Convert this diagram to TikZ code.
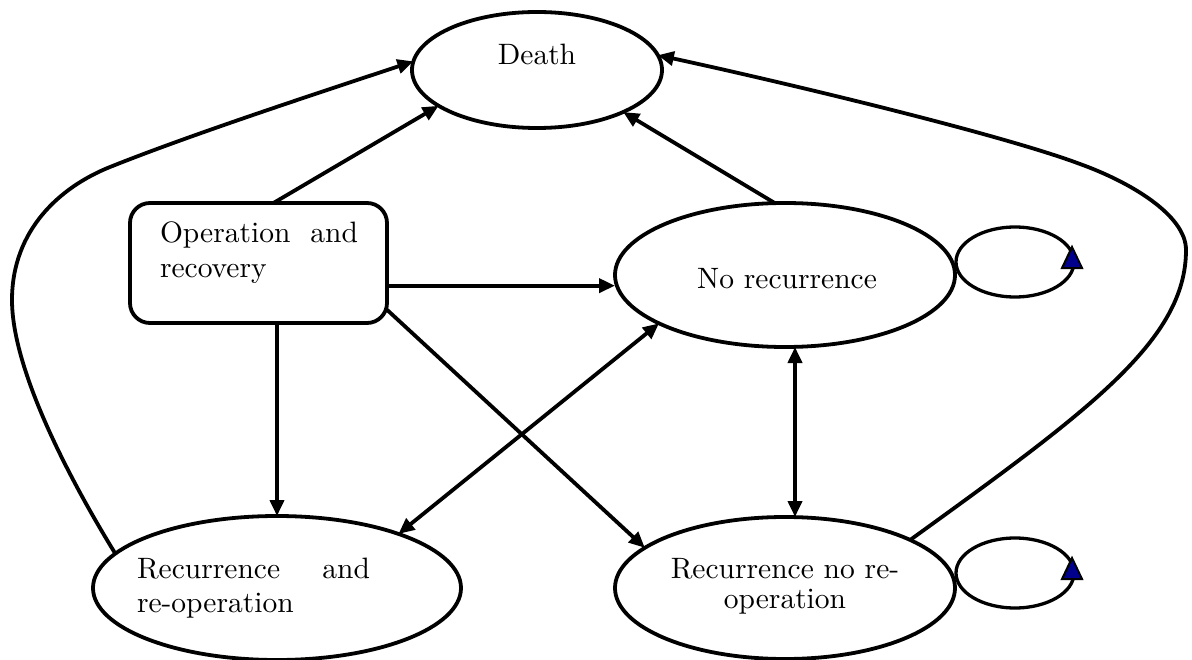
\documentclass[tikz,border=0pt]{standalone}
\usepackage{fontspec}
\setmainfont{lmroman10-regular.otf}
\usetikzlibrary{shapes.geometric,arrows.meta}
\definecolor{tipblue}{RGB}{0,0,140}
\begin{document}
\begin{tikzpicture}[x=1bp,y=-1bp,
  every node/.style={inner sep=0pt, outer sep=0pt},
  state/.style={draw, ellipse, line width=3.8bp},
  box/.style={draw, rectangle, rounded corners=20bp, line width=3.8bp},
  loopring/.style={draw, ellipse, line width=3.3bp, minimum width=118bp, minimum height=70bp},
  conn/.style={line width=3.8bp, -{Triangle[length=16bp,width=14bp]}},
  bconn/.style={line width=3.8bp, {Triangle[length=16bp,width=14bp]}-{Triangle[length=16bp,width=14bp]}},
  lbl/.style={font=\fontsize{29.5bp}{35bp}\selectfont},
  tipmark/.style={fill=tipblue, draw=black, line width=2bp, line join=miter}
]
\useasboundingbox (0,0) rectangle (1192,660);
% states
\node[state, minimum width=250bp, minimum height=116bp] (death) at (537,70) {};
\node[box, minimum width=257bp, minimum height=120bp] (op) at (258.5,263) {};
\node[state, minimum width=340bp, minimum height=144bp] (norec) at (785,275) {};
\node[state, minimum width=368bp, minimum height=144bp] (reop) at (277,588) {};
\node[state, minimum width=340bp, minimum height=142bp] (nreop) at (785,588) {};
\node[loopring] (loopA) at (1015,262) {};
\node[loopring] (loopB) at (1015,573) {};
% texts
\node[lbl, anchor=base] (deathtxt) at (537,65) {Death};
\node[lbl, anchor=base west, text width=200bp, align=left] (optxt) at (160,242) {\makebox[198bp][l]{Operation\hfill and}\\recovery};
\node[lbl, anchor=base] (norectxt) at (787,288) {No recurrence};
\node[font=\fontsize{29.5bp}{30bp}\selectfont, anchor=base, text width=260bp, align=center] (nreoptxt) at (785,578) {Recurrence no re-\\operation};
\node[font=\fontsize{29.5bp}{34bp}\selectfont, anchor=base west, text width=240bp, align=left] (reoptxt) at (137,578) {\makebox[233bp][l]{Recurrence\hfill and}\\re-operation};
% connectors
\draw[conn] (op.76) -- (death.200);
\draw[conn] (op.-10) -- (op.-10 -| norec.west);
\draw[conn] (op.-20) -- (nreop.164);
\draw[conn] (op.south -| reop.north) -- (reop.north);
\draw[bconn] (norec.201) -- (reop.24);
\coordinate (vx) at (795,0);
\draw[bconn] (norec.south -| vx) -- (nreop.north -| vx);
\draw[conn] (norec.98) -- (death.334);
\draw[conn] (reop.168) .. controls (70,480) and (12,370) .. (12,300)
  .. controls (12,230) and (60,187) .. (110,167)
  .. controls (190,135) and (309,96) .. (death.176);
\draw[conn] (nreop.21) .. controls (1090,410) and (1186,340) .. (1186,250)
  .. controls (1186,215) and (1130,182) .. (1080,164)
  .. controls (1000,134) and (782,82) .. (death.7);
% self-loop arrowheads
\filldraw[tipmark] (loopA.east) ++(-2,-15) -- ++(10,21) -- ++(-20,0) -- cycle;
\filldraw[tipmark] (loopB.east) ++(-2,-15) -- ++(10,21) -- ++(-20,0) -- cycle;
\end{tikzpicture}
\end{document}
